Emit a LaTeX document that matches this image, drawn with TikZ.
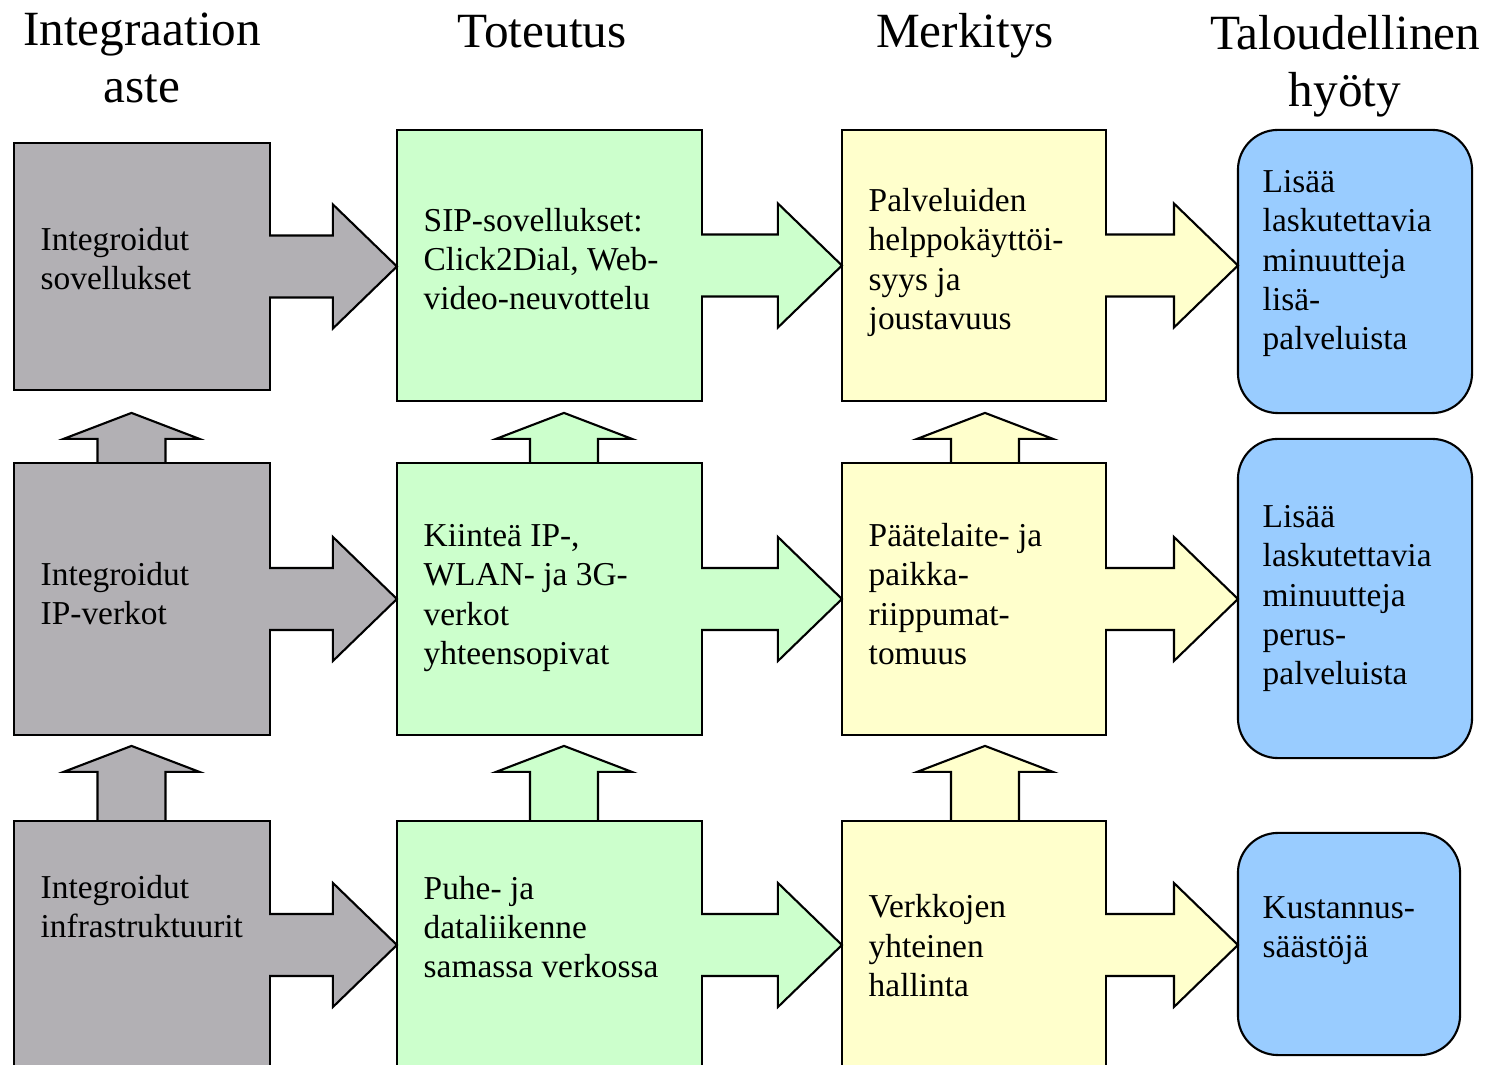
\documentclass[tikz,border=0pt]{standalone}
\usepackage{fontspec}
\setmainfont{Liberation Serif}
\usetikzlibrary{calc,backgrounds}

\definecolor{harmaa}{RGB}{178,176,180}
\definecolor{vihrea}{RGB}{204,255,204}
\definecolor{keltainen}{RGB}{255,255,204}
\definecolor{sininen}{RGB}{153,204,255}

\tikzset{
  box/.style={draw=black, line width=0.6pt, inner sep=0pt, outer sep=0pt},
  txt/.style={align=left, anchor=base west, inner sep=0pt, font=\fontsize{9.5}{11.2}\selectfont},
  head/.style={align=center, anchor=base, inner sep=0pt, font=\fontsize{14}{16.3}\selectfont},
}

% block arrow to the right: from node, to node, colour
\newcommand{\rightblock}[3]{%
  \path[box, fill=#3] ($(#1.east)+(-1,-31)$) -- ($(#1.east -| #2.west)+(-64,-31)$) -- ++(0,-31)
    -- (#1.east -| #2.west) -- ++(-64,62) -- ++(0,-31) -- ($(#1.east)+(-1,31)$);}

% block arrow upwards: from node, x shift, shaft length, colour
\newcommand{\upblock}[4]{%
  \path[box, fill=#4] ($(#1.north)+(#2,1)$) ++(-34,0) -- ++(0,-#3-1) -- ++(-34,0)
    -- ++(68,-26) -- ++(68,26) -- ++(-34,0) -- ++(0,#3+1);}

\begin{document}
\begin{tikzpicture}[x=0.01cm, y=-0.01cm]
    \useasboundingbox (0,0) rectangle (1488,1065);

    % otsikot (base = viimeisen rivin perusviiva)
    \node[head] (h1) at (142,103) {Integraation\\aste};
    \node[head] (h2) at (542,48) {Toteutus};
    \node[head] (h3) at (965,48) {Merkitys};
    \node[head] (h4) at (1345,107) {Taloudellinen\\hyöty};

    % harmaat laatikot
    \node[box, fill=harmaa, minimum width=2.56cm, minimum height=2.47cm] (g1) at (142,266.5) {};
    \node[box, fill=harmaa, minimum width=2.56cm, minimum height=2.72cm] (g2) at (142,599) {};
    \node[box, fill=harmaa, minimum width=2.56cm, minimum height=2.48cm] (g3) at (142,945) {};

    % vihreat laatikot
    \node[box, fill=vihrea, minimum width=3.05cm, minimum height=2.71cm] (v1) at (549.5,265.5) {};
    \node[box, fill=vihrea, minimum width=3.05cm, minimum height=2.72cm] (v2) at (549.5,599) {};
    \node[box, fill=vihrea, minimum width=3.05cm, minimum height=2.48cm] (v3) at (549.5,945) {};

    % keltaiset laatikot
    \node[box, fill=keltainen, minimum width=2.64cm, minimum height=2.71cm] (k1) at (974,265.5) {};
    \node[box, fill=keltainen, minimum width=2.64cm, minimum height=2.72cm] (k2) at (974,599) {};
    \node[box, fill=keltainen, minimum width=2.64cm, minimum height=2.48cm] (k3) at (974,945) {};

    % siniset laatikot
    \node[box, fill=sininen, rounded corners=0.4cm, minimum width=2.34cm, minimum height=2.83cm] (s1) at (1355,271.5) {};
    \node[box, fill=sininen, rounded corners=0.4cm, minimum width=2.34cm, minimum height=3.19cm] (s2) at (1355,598.5) {};
    \node[box, fill=sininen, rounded corners=0.4cm, minimum width=2.22cm, minimum height=2.22cm] (s3) at (1349,944) {};

    % nuolet ylos (taustalla)
    \begin{scope}[on background layer]
        \upblock{g2}{-10.5}{24}{harmaa}
        \upblock{g3}{-10.5}{49}{harmaa}
        \upblock{v2}{14.5}{24}{vihrea}
        \upblock{v3}{14.5}{49}{vihrea}
        \upblock{k2}{11}{24}{keltainen}
        \upblock{k3}{11}{49}{keltainen}
    \end{scope}

    % nuolet oikealle
    \foreach \a/\b/\c in {g1/v1/harmaa, g2/v2/harmaa, g3/v3/harmaa,
                          v1/k1/vihrea, v2/k2/vihrea, v3/k3/vihrea,
                          k1/s1/keltainen, k2/s2/keltainen, k3/s3/keltainen} {
        \rightblock{\a}{\b}{\c}
    }

    % tekstit (base = viimeisen rivin perusviiva)
    \node[txt] (tg1) at (40,289.5) {Integroidut\\sovellukset};
    \node[txt] (tg2) at (40,625) {Integroidut\\IP-verkot};
    \node[txt] (tg3) at (40,938) {Integroidut\\infrastruktuurit};

    \node[txt] (tv1) at (423,310) {SIP-sovellukset:\\Click2Dial, Web-\\video-neuvottelu};
    \node[txt] (tv2) at (423,664.5) {Kiinteä IP-,\\WLAN- ja 3G-\\verkot\\yhteensopivat};
    \node[txt] (tv3) at (423,978) {Puhe- ja\\dataliikenne\\samassa verkossa};

    \node[txt] (tk1) at (868,329.5) {Palveluiden\\helppokäyttöi-\\syys ja\\joustavuus};
    \node[txt] (tk2) at (868,664.5) {Päätelaite- ja\\paikka-\\riippumat-\\tomuus};
    \node[txt] (tk3) at (868,996.5) {Verkkojen\\yhteinen\\hallinta};

    \node[txt] (ts1) at (1262,350) {Lisää\\laskutettavia\\minuutteja\\lisä-\\palveluista};
    \node[txt] (ts2) at (1262,685) {Lisää\\laskutettavia\\minuutteja\\perus-\\palveluista};
    \node[txt] (ts3) at (1262,958) {Kustannus-\\säästöjä};
\end{tikzpicture}
\end{document}
